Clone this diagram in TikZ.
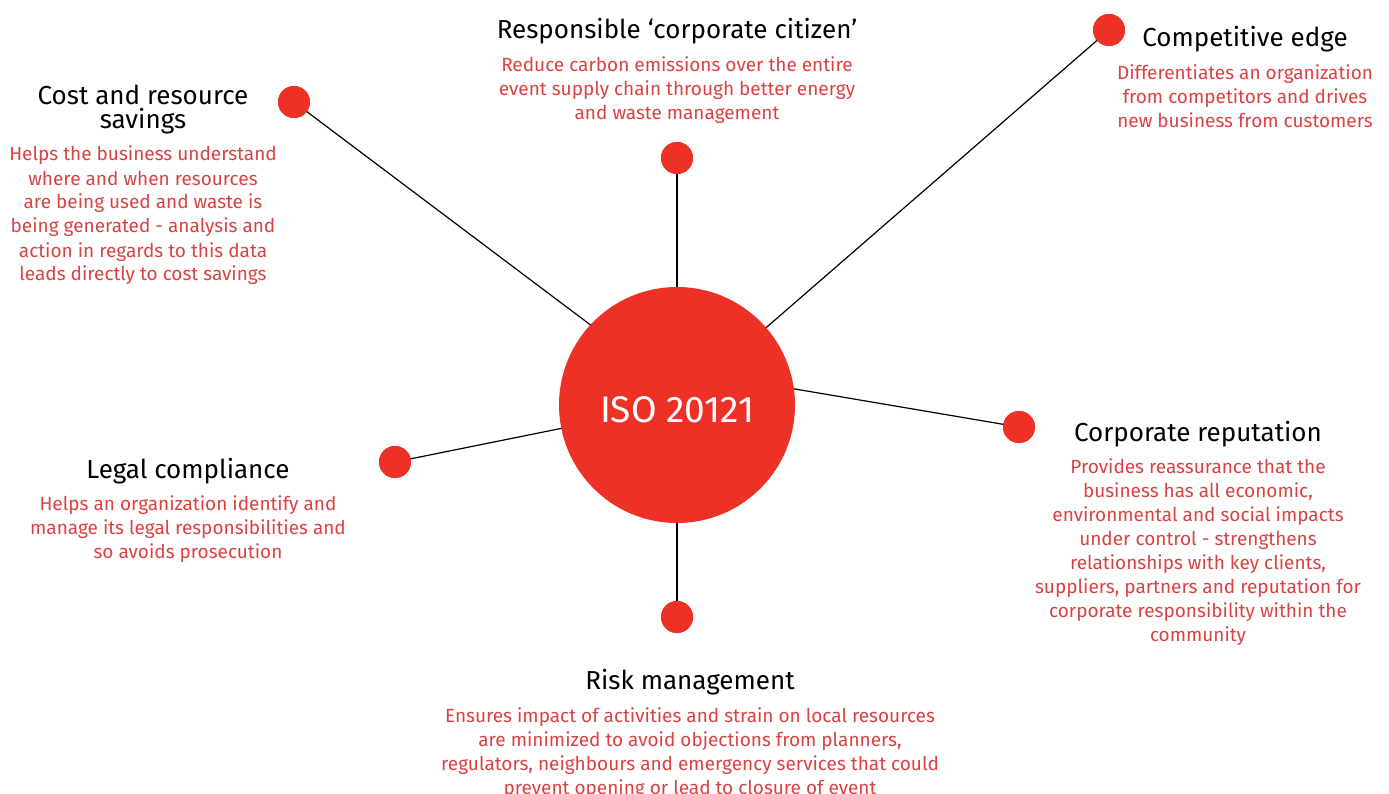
\documentclass[tikz,border=0pt]{standalone}
\usepackage{fontspec}
\setmainfont{Fira Sans}
\definecolor{isored}{RGB}{238,49,38}
\definecolor{bodyred}{RGB}{218,66,66}
\tikzset{
  hub/.style={circle, fill=isored, minimum size=236pt, inner sep=0pt},
  dot/.style={circle, fill=isored, minimum size=32pt, inner sep=0pt},
  spoke/.style={draw=black, line width=1.2pt},
  head/.style={anchor=base, align=center, inner sep=0pt, text=black, font=\fontsize{26}{24}\selectfont},
  body/.style={anchor=base, align=center, inner sep=0pt, text=bodyred, font=\fontsize{19}{24}\selectfont}
}
\begin{document}
\begin{tikzpicture}[x=1pt,y=-1pt]
\useasboundingbox (0,0) rectangle (1389,794);
% hub and dots
\coordinate (hc) at (677,405);
\coordinate (aimcost) at (677,390);
\coordinate (aimrep) at (677,369);
\node[dot] (dcost) at (294,102) {};
\node[dot] (dresp) at (677,158) {};
\node[dot] (dcomp) at (1109,30) {};
\node[dot] (drep) at (1019,427) {};
\node[dot] (dlegal) at (395,462) {};
\node[dot] (drisk) at (677,617) {};
\draw[spoke] (aimcost) -- (dcost.center);
\draw[spoke] (aimrep) -- (drep.center);
\foreach \d in {dresp,dcomp,dlegal,drisk} {
  \draw[spoke] (hc) -- (\d.center);
}
\foreach \d in {dcost,dresp,dcomp,drep,dlegal,drisk} {
  \fill[isored] (\d) circle (16pt);
}
\node[hub] (hub) at (hc) {};
\node[text=white, font=\fontsize{37}{40}\selectfont, inner sep=0pt] (hubtext) at (677,410) {ISO 20121};
% texts (base = baseline of last line)
\node[head] (hcost) at (143,129) {Cost and resource\\savings};
\node[body] (bcost) at (143,281) {Helps the business understand\\where and when resources\\are being used and waste is\\being generated - analysis and\\action in regards to this data\\leads directly to cost savings};
\node[head] (hresp) at (677,39) {Responsible ‘corporate citizen’};
\node[body] (bresp) at (677,120) {Reduce carbon emissions over the entire\\event supply chain through better energy\\and waste management};
\node[head] (hcomp) at (1245,47) {Competitive edge};
\node[body] (bcomp) at (1245,128) {Differentiates an organization\\from competitors and drives\\new business from customers};
\node[head] (hrep) at (1198,441) {Corporate reputation};
\node[body] (brep) at (1198,641) {Provides reassurance that the\\business has all economic,\\environmental and social impacts\\under control - strengthens\\relationships with key clients,\\suppliers, partners and reputation for\\corporate responsibility within the\\community};
\node[head] (hlegal) at (188,478) {Legal compliance};
\node[body] (blegal) at (188,558) {Helps an organization identify and\\manage its legal responsibilities and\\so avoids prosecution};
\node[head] (hrisk) at (690,689) {Risk management};
\node[body] (brisk) at (690,794) {Ensures impact of activities and strain on local resources\\are minimized to avoid objections from planners,\\regulators, neighbours and emergency services that could\\prevent opening or lead to closure of event};
\end{tikzpicture}
\end{document}
